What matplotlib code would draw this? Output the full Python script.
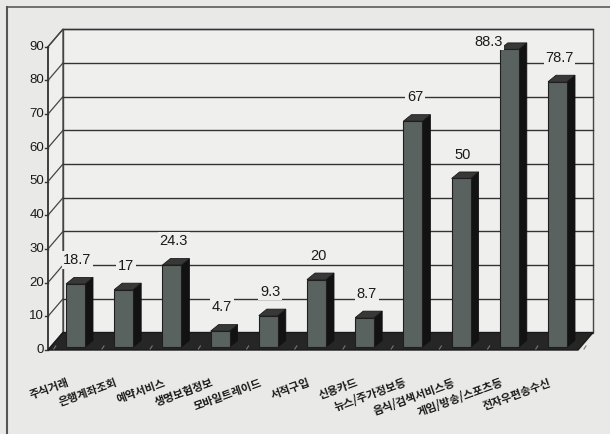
import matplotlib
matplotlib.use("Agg")
import matplotlib.pyplot as plt
from matplotlib.patches import Polygon
from matplotlib.lines import Line2D
from matplotlib import font_manager

categories = ["주식거래", "은행계좌조회", "예약서비스", "생명보험정보", "모바일트레이드",
              "서적구입", "신용카드", "뉴스/주가정보등", "음식/검색서비스등",
              "게임/방송/스포츠등", "전자우편송수신"]
values = [18.7, 17, 24.3, 4.7, 9.3, 20, 8.7, 67, 50, 88.3, 78.7]
value_labels = ["18.7", "17", "24.3", "4.7", "9.3", "20", "8.7", "67", "50", "88.3", "78.7"]
yticks = [0, 10, 20, 30, 40, 50, 60, 70, 80, 90]

names = {f.name for f in font_manager.fontManager.ttflist}
num_font = "Liberation Sans Narrow" if "Liberation Sans Narrow" in names else "Liberation Sans"
kr_font = ["Noto Sans CJK KR", "DejaVu Sans"]

# geometry (data units: x = category index, y = value)
PXC = 48.2   # px per category
PXU = 3.37   # px per value unit
wall_dx, wall_dy = 15 / PXC, 17.5 / PXU
bar_dx, bar_dy = 8 / PXC, 6.5 / PXU
half_w = 9.5 / PXC
base = 0.9
x_axis = (48 - 75.5) / PXC
x_right = x_axis + 530 / PXC
ymax = 90

bg = "#e9eae8"
wall = "#eff0ee"

fig = plt.figure(figsize=(6.1, 4.34), dpi=100, facecolor=bg)
ax = fig.add_axes([0, 0, 1, 1])
ax.set_xlim(-75.5 / PXC, (610 - 75.5) / PXC)
ax.set_ylim(-84 / PXU, 350 / PXU)
ax.axis("off")

# back wall
ax.add_patch(Polygon([(x_axis + wall_dx, wall_dy), (x_right + wall_dx, wall_dy),
                      (x_right + wall_dx, ymax + wall_dy), (x_axis + wall_dx, ymax + wall_dy)],
                     closed=True, facecolor=wall, edgecolor="#444444", lw=1.0, zorder=1))
# left wall
ax.add_patch(Polygon([(x_axis, 0), (x_axis + wall_dx, wall_dy),
                      (x_axis + wall_dx, ymax + wall_dy), (x_axis, ymax)],
                     closed=True, facecolor=wall, edgecolor="#444444", lw=1.0, zorder=1))

# gridlines on walls
for t in yticks[1:]:
    ax.plot([x_axis + wall_dx, x_right + wall_dx], [t + wall_dy, t + wall_dy],
            color="#333333", lw=1.0, zorder=2)
    ax.plot([x_axis, x_axis + wall_dx], [t, t + wall_dy], color="#444444", lw=0.9, zorder=2)

# front axis line and ticks
ax.plot([x_axis, x_axis], [0, ymax], color="#333333", lw=1.1, zorder=3)
for t in yticks:
    ax.plot([x_axis - 3 / PXC, x_axis], [t, t], color="#333333", lw=1.0, zorder=3)
    ax.text(x_axis - 4 / PXC, t, str(t), ha="right", va="center", fontsize=9.5,
            family=num_font, color="#1a1a1a", zorder=3)

# floor
ax.add_patch(Polygon([(x_axis, 0), (x_right, 0), (x_right + wall_dx, wall_dy),
                      (x_axis + wall_dx, wall_dy)],
                     closed=True, facecolor="#262626", edgecolor="#1a1a1a", lw=1.0, zorder=3))
for i in range(len(categories) + 1):
    xb = i - 0.5 + 0.05
    ax.plot([xb, xb + 2 / PXC], [0.3, 1.2], color="#777777", lw=0.8, zorder=3)

# bars
for i, v in enumerate(values):
    x0, x1 = i - half_w, i + half_w
    y0, y1 = base, base + v
    ax.add_patch(Polygon([(x1, y0), (x1 + bar_dx, y0 + bar_dy), (x1 + bar_dx, y1 + bar_dy), (x1, y1)],
                         closed=True, facecolor="#121212", edgecolor="#121212", lw=0.6, zorder=4))
    ax.add_patch(Polygon([(x0, y1), (x1, y1), (x1 + bar_dx, y1 + bar_dy), (x0 + bar_dx, y1 + bar_dy)],
                         closed=True, facecolor="#383838", edgecolor="#1a1a1a", lw=0.6, zorder=4))
    ax.add_patch(Polygon([(x0, y0), (x1, y0), (x1, y1), (x0, y1)],
                         closed=True, facecolor="#59625e", edgecolor="#1e1e1e", lw=0.8, zorder=5))

# value labels
for i, (v, lab) in enumerate(zip(values, value_labels)):
    ly = v + 8
    lx = i + 2 / PXC
    if ly > 91.5:
        ly = 91.5
        lx = i - 21 / PXC
    ax.text(lx, ly, lab, ha="center", va="center", fontsize=10.5, family=num_font,
            color="#1a1a1a", zorder=6,
            bbox=dict(boxstyle="square,pad=0.12", facecolor=wall, edgecolor="none"))

# category labels
for i, c in enumerate(categories):
    ax.text(i - 9 / PXC, -26 / PXU, c, ha="right", va="top", rotation=20,
            rotation_mode="anchor", fontsize=8, family=kr_font, fontweight="bold",
            color="#1a1a1a", zorder=6)

# outer frame (top and left edges visible in reference)
fig.add_artist(Line2D([7 / 610, 1.0], [1 - 7 / 434, 1 - 7 / 434], transform=fig.transFigure,
                      color="#666666", lw=1.3))
fig.add_artist(Line2D([7 / 610, 7 / 610], [0, 1 - 7 / 434], transform=fig.transFigure,
                      color="#555555", lw=1.5))

fig.savefig("out.png", dpi=100, facecolor=bg)
